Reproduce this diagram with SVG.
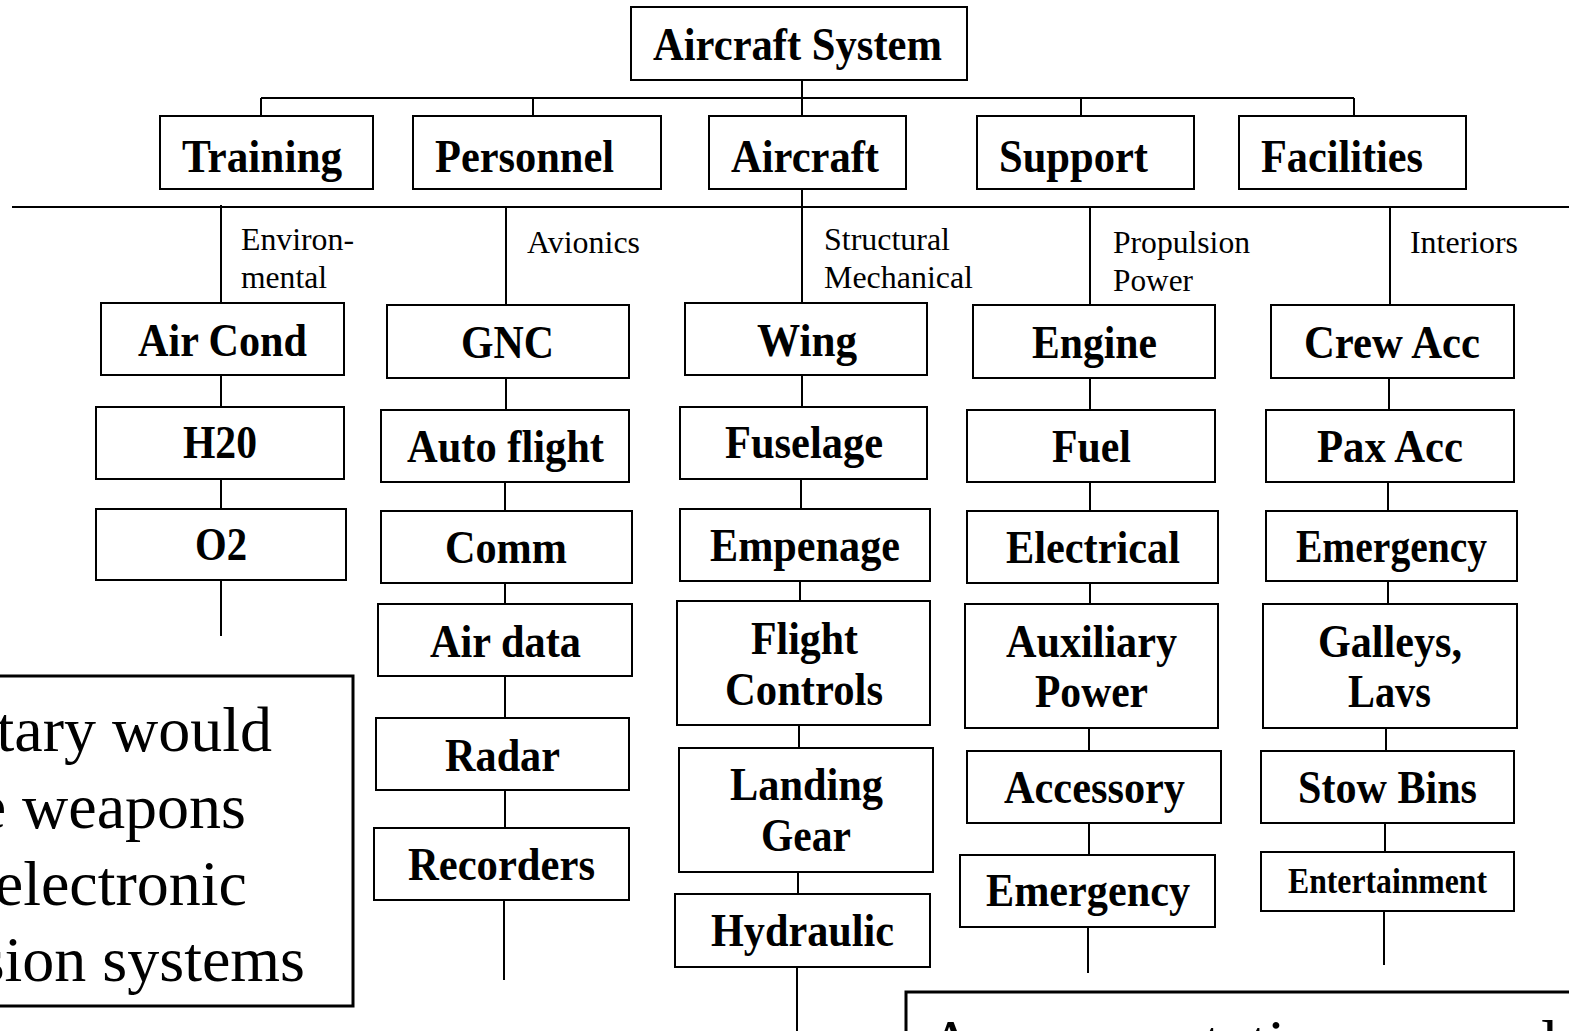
<svg xmlns="http://www.w3.org/2000/svg" width="1569" height="1031" viewBox="0 0 1569 1031">
  <style>
    .box { fill: #fff; stroke: #000; stroke-width: 2; }
    .note { fill: #fff; stroke: #000; stroke-width: 3; }
    .wire { stroke: #000; stroke-width: 2; fill: none; }
    .b { font-family: "Liberation Serif", "Times New Roman", serif; font-weight: bold; font-size: 47px; fill: #000; }
    .b36 { font-family: "Liberation Serif", "Times New Roman", serif; font-weight: bold; font-size: 36px; fill: #000; }
    .r { font-family: "Liberation Serif", "Times New Roman", serif; font-size: 31px; fill: #000; }
    .big { font-family: "Liberation Serif", "Times New Roman", serif; font-size: 64px; fill: #000; }
  </style>
  <rect width="1569" height="1031" fill="#fff"/>

  <!-- tree wiring -->
  <g id="connectors" class="wire">
    <line x1="802" y1="80" x2="802" y2="116"/>
    <line x1="261" y1="98" x2="1354" y2="98"/>
    <line x1="261" y1="98" x2="261" y2="116"/>
    <line x1="533" y1="98" x2="533" y2="116"/>
    <line x1="1081" y1="98" x2="1081" y2="116"/>
    <line x1="1354" y1="98" x2="1354" y2="116"/>
    <line x1="12" y1="207" x2="1569" y2="207"/>
    <line x1="802" y1="189" x2="802" y2="303"/>
    <line x1="221" y1="205" x2="221" y2="303"/>
    <line x1="506" y1="207" x2="506" y2="305"/>
    <line x1="1090" y1="207" x2="1090" y2="305"/>
    <line x1="1390" y1="207" x2="1390" y2="305"/>
    <!-- environmental -->
    <line x1="221" y1="375" x2="221" y2="407"/>
    <line x1="221" y1="479" x2="221" y2="509"/>
    <line x1="221" y1="580" x2="221" y2="636"/>
    <!-- avionics -->
    <line x1="506" y1="378" x2="506" y2="410"/>
    <line x1="505" y1="482" x2="505" y2="511"/>
    <line x1="505" y1="583" x2="505" y2="604"/>
    <line x1="505" y1="676" x2="505" y2="718"/>
    <line x1="505" y1="790" x2="505" y2="828"/>
    <line x1="504" y1="900" x2="504" y2="980"/>
    <!-- structural / mechanical -->
    <line x1="802" y1="375" x2="802" y2="407"/>
    <line x1="801" y1="479" x2="801" y2="509"/>
    <line x1="800" y1="581" x2="800" y2="601"/>
    <line x1="799" y1="725" x2="799" y2="748"/>
    <line x1="798" y1="872" x2="798" y2="894"/>
    <line x1="797" y1="967" x2="797" y2="1031"/>
    <!-- propulsion / power -->
    <line x1="1090" y1="378" x2="1090" y2="410"/>
    <line x1="1090" y1="482" x2="1090" y2="511"/>
    <line x1="1090" y1="583" x2="1090" y2="604"/>
    <line x1="1089" y1="728" x2="1089" y2="751"/>
    <line x1="1089" y1="823" x2="1089" y2="855"/>
    <line x1="1088" y1="927" x2="1088" y2="973"/>
    <!-- interiors -->
    <line x1="1389" y1="378" x2="1389" y2="410"/>
    <line x1="1388" y1="482" x2="1388" y2="511"/>
    <line x1="1388" y1="581" x2="1388" y2="604"/>
    <line x1="1386" y1="728" x2="1386" y2="751"/>
    <line x1="1385" y1="823" x2="1385" y2="852"/>
    <line x1="1384" y1="911" x2="1384" y2="965"/>
  </g>

  <!-- branch captions -->
  <g id="captions">
    <text class="r" x="241" y="250" textLength="113" lengthAdjust="spacingAndGlyphs">Environ-</text>
    <text class="r" x="241" y="288" textLength="86" lengthAdjust="spacingAndGlyphs">mental</text>
    <text class="r" x="527" y="253" textLength="113" lengthAdjust="spacingAndGlyphs">Avionics</text>
    <text class="r" x="824" y="250" textLength="126" lengthAdjust="spacingAndGlyphs">Structural</text>
    <text class="r" x="824" y="288" textLength="149" lengthAdjust="spacingAndGlyphs">Mechanical</text>
    <text class="r" x="1113" y="253" textLength="137" lengthAdjust="spacingAndGlyphs">Propulsion</text>
    <text class="r" x="1113" y="291" textLength="80" lengthAdjust="spacingAndGlyphs">Power</text>
    <text class="r" x="1410" y="253" textLength="108" lengthAdjust="spacingAndGlyphs">Interiors</text>
  </g>

  <!-- root -->
  <g id="aircraft-system"><rect class="box" x="631" y="7" width="336" height="73"/><text class="b" x="653" y="60" textLength="289" lengthAdjust="spacingAndGlyphs">Aircraft System</text></g>

  <!-- second level -->
  <g id="training"><rect class="box" x="160" y="116" width="213" height="73"/><text class="b" x="182" y="172" textLength="160" lengthAdjust="spacingAndGlyphs">Training</text></g>
  <g id="personnel"><rect class="box" x="413" y="116" width="248" height="73"/><text class="b" x="435" y="172" textLength="179" lengthAdjust="spacingAndGlyphs">Personnel</text></g>
  <g id="aircraft"><rect class="box" x="709" y="116" width="197" height="73"/><text class="b" x="731" y="172" textLength="148" lengthAdjust="spacingAndGlyphs">Aircraft</text></g>
  <g id="support"><rect class="box" x="977" y="116" width="217" height="73"/><text class="b" x="999" y="172" textLength="149" lengthAdjust="spacingAndGlyphs">Support</text></g>
  <g id="facilities"><rect class="box" x="1239" y="116" width="227" height="73"/><text class="b" x="1261" y="172" textLength="162" lengthAdjust="spacingAndGlyphs">Facilities</text></g>

  <!-- environmental column -->
  <g id="air-cond"><rect class="box" x="101" y="303" width="243" height="72"/><text class="b" x="138" y="356" textLength="169" lengthAdjust="spacingAndGlyphs">Air Cond</text></g>
  <g id="h20"><rect class="box" x="96" y="407" width="248" height="72"/><text class="b" x="183" y="458" textLength="74" lengthAdjust="spacingAndGlyphs">H20</text></g>
  <g id="o2"><rect class="box" x="96" y="509" width="250" height="71"/><text class="b" x="195" y="560" textLength="52" lengthAdjust="spacingAndGlyphs">O2</text></g>

  <!-- avionics column -->
  <g id="gnc"><rect class="box" x="387" y="305" width="242" height="73"/><text class="b" x="461" y="358" textLength="93" lengthAdjust="spacingAndGlyphs">GNC</text></g>
  <g id="auto-flight"><rect class="box" x="381" y="410" width="248" height="72"/><text class="b" x="407" y="462" textLength="197" lengthAdjust="spacingAndGlyphs">Auto flight</text></g>
  <g id="comm"><rect class="box" x="381" y="511" width="251" height="72"/><text class="b" x="445" y="563" textLength="122" lengthAdjust="spacingAndGlyphs">Comm</text></g>
  <g id="air-data"><rect class="box" x="378" y="604" width="254" height="72"/><text class="b" x="430" y="657" textLength="151" lengthAdjust="spacingAndGlyphs">Air data</text></g>
  <g id="radar"><rect class="box" x="376" y="718" width="253" height="72"/><text class="b" x="445" y="771" textLength="115" lengthAdjust="spacingAndGlyphs">Radar</text></g>
  <g id="recorders"><rect class="box" x="374" y="828" width="255" height="72"/><text class="b" x="408" y="880" textLength="187" lengthAdjust="spacingAndGlyphs">Recorders</text></g>

  <!-- structural / mechanical column -->
  <g id="wing"><rect class="box" x="685" y="303" width="242" height="72"/><text class="b" x="757" y="356" textLength="100" lengthAdjust="spacingAndGlyphs">Wing</text></g>
  <g id="fuselage"><rect class="box" x="680" y="407" width="247" height="72"/><text class="b" x="725" y="458" textLength="158" lengthAdjust="spacingAndGlyphs">Fuselage</text></g>
  <g id="empenage"><rect class="box" x="680" y="509" width="250" height="72"/><text class="b" x="710" y="561" textLength="190" lengthAdjust="spacingAndGlyphs">Empenage</text></g>
  <g id="flight-controls"><rect class="box" x="677" y="601" width="253" height="124"/><text class="b" x="751" y="654" textLength="107" lengthAdjust="spacingAndGlyphs">Flight</text><text class="b" x="725" y="705" textLength="158" lengthAdjust="spacingAndGlyphs">Controls</text></g>
  <g id="landing-gear"><rect class="box" x="679" y="748" width="254" height="124"/><text class="b" x="730" y="800" textLength="153" lengthAdjust="spacingAndGlyphs">Landing</text><text class="b" x="761" y="851" textLength="90" lengthAdjust="spacingAndGlyphs">Gear</text></g>
  <g id="hydraulic"><rect class="box" x="675" y="894" width="255" height="73"/><text class="b" x="711" y="946" textLength="183" lengthAdjust="spacingAndGlyphs">Hydraulic</text></g>

  <!-- propulsion / power column -->
  <g id="engine"><rect class="box" x="973" y="305" width="242" height="73"/><text class="b" x="1032" y="358" textLength="125" lengthAdjust="spacingAndGlyphs">Engine</text></g>
  <g id="fuel"><rect class="box" x="967" y="410" width="248" height="72"/><text class="b" x="1052" y="462" textLength="79" lengthAdjust="spacingAndGlyphs">Fuel</text></g>
  <g id="electrical"><rect class="box" x="967" y="511" width="251" height="72"/><text class="b" x="1006" y="563" textLength="174" lengthAdjust="spacingAndGlyphs">Electrical</text></g>
  <g id="auxiliary-power"><rect class="box" x="965" y="604" width="253" height="124"/><text class="b" x="1006" y="657" textLength="171" lengthAdjust="spacingAndGlyphs">Auxiliary</text><text class="b" x="1035" y="707" textLength="113" lengthAdjust="spacingAndGlyphs">Power</text></g>
  <g id="accessory"><rect class="box" x="967" y="751" width="254" height="72"/><text class="b" x="1004" y="803" textLength="181" lengthAdjust="spacingAndGlyphs">Accessory</text></g>
  <g id="emergency-power"><rect class="box" x="960" y="855" width="255" height="72"/><text class="b" x="986" y="906" textLength="204" lengthAdjust="spacingAndGlyphs">Emergency</text></g>

  <!-- interiors column -->
  <g id="crew-acc"><rect class="box" x="1271" y="305" width="243" height="73"/><text class="b" x="1304" y="358" textLength="176" lengthAdjust="spacingAndGlyphs">Crew Acc</text></g>
  <g id="pax-acc"><rect class="box" x="1266" y="410" width="248" height="72"/><text class="b" x="1317" y="462" textLength="146" lengthAdjust="spacingAndGlyphs">Pax Acc</text></g>
  <g id="emergency-interiors"><rect class="box" x="1266" y="511" width="251" height="70"/><text class="b" x="1296" y="562" textLength="191" lengthAdjust="spacingAndGlyphs">Emergency</text></g>
  <g id="galleys-lavs"><rect class="box" x="1263" y="604" width="254" height="124"/><text class="b" x="1318" y="657" textLength="144" lengthAdjust="spacingAndGlyphs">Galleys,</text><text class="b" x="1348" y="707" textLength="83" lengthAdjust="spacingAndGlyphs">Lavs</text></g>
  <g id="stow-bins"><rect class="box" x="1261" y="751" width="253" height="72"/><text class="b" x="1298" y="803" textLength="179" lengthAdjust="spacingAndGlyphs">Stow Bins</text></g>
  <g id="entertainment"><rect class="box" x="1261" y="852" width="253" height="59"/><text class="b36" x="1288" y="893" textLength="199" lengthAdjust="spacingAndGlyphs">Entertainment</text></g>

  <!-- side note, left -->
  <g id="note-left">
    <rect class="note" x="-10" y="676" width="363" height="330"/>
    <text class="big" x="272" y="751" text-anchor="end">tary would</text>
    <text class="big" x="246" y="828" text-anchor="end">e weapons</text>
    <text class="big" x="247" y="905" text-anchor="end">electronic</text>
    <text class="big" x="305" y="981" text-anchor="end">sion systems</text>
  </g>

  <!-- side note, bottom right -->
  <g id="note-right">
    <rect class="note" x="906" y="992" width="700" height="80"/>
    <text class="big" x="928" y="1064">A representation more closely</text>
  </g>
</svg>
